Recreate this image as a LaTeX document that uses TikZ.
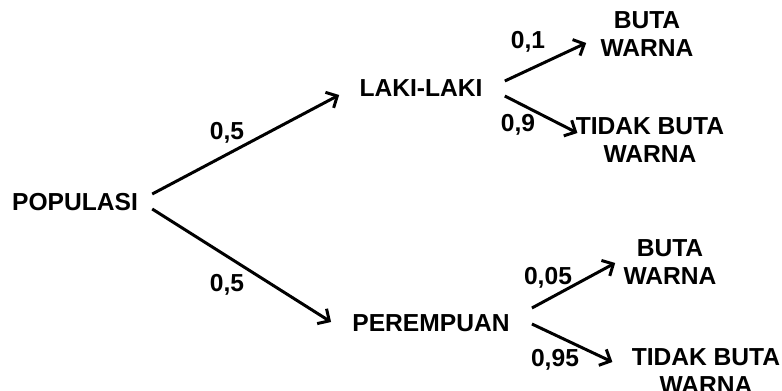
\documentclass[tikz,border=0pt]{standalone}
\usepackage{fontspec}
\setmainfont{Liberation Sans}
\usetikzlibrary{arrows.meta}

\tikzset{
  lbl/.style={inner sep=0pt, align=center, font=\fontsize{14}{15.6}\selectfont\bfseries},
  arr/.style={line width=1.7pt, -{Straight Barb[length=5pt,width=10pt,line width=1.7pt]}}
}

\begin{document}
\begin{tikzpicture}[x=0.02cm, y=-0.02cm]
\useasboundingbox (0,0) rectangle (782,391);

% nodes of the tree
\node at (75,202) [lbl] (pop) {POPULASI};
\node at (421,88) [lbl] (laki) {LAKI-LAKI};
\node at (431,323) [lbl] (per) {PEREMPUAN};
\node at (647,34) [lbl] (bwa) {BUTA\\WARNA};
\node at (650,140) [lbl] (tbwa) {TIDAK BUTA\\WARNA};
\node at (670,262) [lbl] (bwb) {BUTA\\WARNA};
\node at (706,371) [lbl] (tbwb) {TIDAK BUTA\\WARNA};

% probabilities
\node at (227,133) [lbl] (pa) {0,5};
\node at (227,285) [lbl] (pb) {0,5};
\node at (528,42) [lbl] (pc) {0,1};
\node at (518,125) [lbl] (pd) {0,9};
\node at (548,278) [lbl] (pe) {0,05};
\node at (555,360) [lbl] (pf) {0,95};

% branches
\draw[arr] ([shift={(14,-8)}]pop.east) -- ([shift={(-20,7)}]laki.west);
\draw[arr] ([shift={(14,7)}]pop.east) -- ([shift={(-21,-1)}]per.west);
\draw[arr] ([shift={(22,-7)}]laki.east) -- ([shift={(-14,9)}]bwa.west);
\draw[arr] ([shift={(22,8)}]laki.east) -- ([shift={(2,-7)}]tbwa.west);
\draw[arr] ([shift={(22,-15)}]per.east) -- ([shift={(-8,1)}]bwb.west);
\draw[arr] ([shift={(22,1)}]per.east) -- ([shift={(-19,-9)}]tbwb.west);
\end{tikzpicture}
\end{document}
